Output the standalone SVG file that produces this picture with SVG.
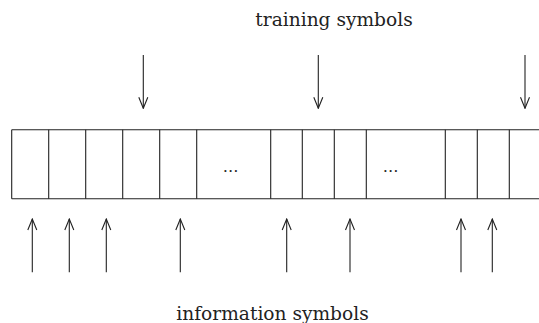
<svg xmlns="http://www.w3.org/2000/svg" width="539" height="323" viewBox="0 0 539 323">
  <style>
    .cell { fill: none; stroke: #222; stroke-width: 1.1; }
    .arrow { stroke: #222; stroke-width: 1.1; fill: none; marker-end: url(#head); }
    .label { font-family: 'DejaVu Serif', 'Liberation Serif', serif; font-size: 18.6px; fill: #222; text-anchor: middle; }
    .dots { font-family: 'Liberation Serif', 'Times New Roman', serif; font-size: 17px; fill: #222; text-anchor: middle; letter-spacing: 1px; }
  </style>
  <defs>
    <marker id="head" viewBox="-12 -6 13 12" refX="0" refY="0" markerWidth="13" markerHeight="12" markerUnits="userSpaceOnUse" orient="auto">
      <path d="M-11,-4.5 L0,0 L-11,4.5" fill="none" stroke="#222" stroke-width="1.1"/>
    </marker>
  </defs>

  <rect width="539" height="323" fill="#fff"/>

  <!-- symbol frame: row of slots running off the right edge -->
  <g id="frame">
    <line class="cell" x1="11.7" y1="129.7" x2="540" y2="129.7"/>
    <line class="cell" x1="11.7" y1="198.7" x2="540" y2="198.7"/>
    <g id="slot-borders">
      <line class="cell" x1="11.7" y1="129.7" x2="11.7" y2="198.7"/>
      <line class="cell" x1="48.7" y1="129.7" x2="48.7" y2="198.7"/>
      <line class="cell" x1="85.7" y1="129.7" x2="85.7" y2="198.7"/>
      <line class="cell" x1="122.7" y1="129.7" x2="122.7" y2="198.7"/>
      <line class="cell" x1="159.7" y1="129.7" x2="159.7" y2="198.7"/>
      <line class="cell" x1="196.7" y1="129.7" x2="196.7" y2="198.7"/>
      <line class="cell" x1="270.7" y1="129.7" x2="270.7" y2="198.7"/>
      <line class="cell" x1="302.3" y1="129.7" x2="302.3" y2="198.7"/>
      <line class="cell" x1="334.3" y1="129.7" x2="334.3" y2="198.7"/>
      <line class="cell" x1="366.3" y1="129.7" x2="366.3" y2="198.7"/>
      <line class="cell" x1="445.3" y1="129.7" x2="445.3" y2="198.7"/>
      <line class="cell" x1="477.3" y1="129.7" x2="477.3" y2="198.7"/>
      <line class="cell" x1="509.3" y1="129.7" x2="509.3" y2="198.7"/>
    </g>
    <text class="dots" x="231" y="172">...</text>
    <text class="dots" x="391" y="172">...</text>
  </g>

  <g id="training-label">
    <text class="label" x="334" y="26">training symbols</text>
  </g>
  <g id="information-label">
    <text class="label" x="272.5" y="320">information symbols</text>
  </g>

  <!-- arrows: training symbols enter from above, information symbols from below -->
  <g id="connectors">
    <line class="arrow" x1="143.3" y1="55" x2="143.3" y2="108.3"/>
    <line class="arrow" x1="318.3" y1="55" x2="318.3" y2="108.3"/>
    <line class="arrow" x1="525" y1="55" x2="525" y2="108.3"/>

    <line class="arrow" x1="32.3" y1="272.3" x2="32.3" y2="219"/>
    <line class="arrow" x1="69.3" y1="272.3" x2="69.3" y2="219"/>
    <line class="arrow" x1="106.3" y1="272.3" x2="106.3" y2="219"/>
    <line class="arrow" x1="180.3" y1="272.3" x2="180.3" y2="219"/>
    <line class="arrow" x1="286.7" y1="272.3" x2="286.7" y2="219"/>
    <line class="arrow" x1="350" y1="272.3" x2="350" y2="219"/>
    <line class="arrow" x1="461" y1="272.3" x2="461" y2="219"/>
    <line class="arrow" x1="492.3" y1="272.3" x2="492.3" y2="219"/>
  </g>
</svg>
